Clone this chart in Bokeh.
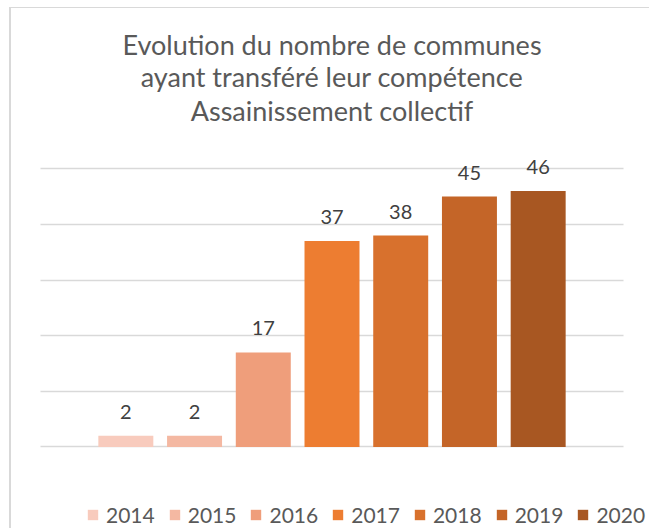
from bokeh.plotting import figure
from bokeh.models import ColumnDataSource, FactorRange, Range1d, LabelSet, Legend, LegendItem, FixedTicker, Title
from bokeh.core.properties import value
from bokeh.embed import file_html
from bokeh.resources import INLINE

years = ["2014", "2015", "2016", "2017", "2018", "2019", "2020"]
values = [2, 2, 17, 37, 38, 45, 46]
colors = ["#F8CBBD", "#F4B8A2", "#EF9E7B", "#ED7D31", "#D8712D", "#C46528", "#A85722"]
grid_ticks = [0, 10, 20, 30, 40, 50]
title_lines = ["Evolution du nombre de communes",
               "ayant transféré leur compétence",
               "Assainissement collectif"]

FONT = "Lato"

source = ColumnDataSource(dict(year=years, value=values, color=colors,
                               label=[str(v) for v in values]))

p = figure(width=649, height=528, output_backend="svg", toolbar_location=None,
           x_range=FactorRange(factors=years, range_padding=1.12, range_padding_units="absolute"),
           y_range=Range1d(-14.65, 57.6),
           min_border_left=14, min_border_right=0, min_border_top=126, min_border_bottom=0)

# title lines: p.title is outermost, first added line is closest to the frame
p.title.text = title_lines[0]
p.title.align = "center"
p.title.text_font = FONT
p.title.text_font_size = "27px"
p.title.text_font_style = "normal"
p.title.text_color = "#595959"
p.title.standoff = -3
for line, so in [(title_lines[2], 0), (title_lines[1], -3)]:
    t = Title(text=line, align="center", text_font=FONT, text_font_size="27px",
              text_font_style="normal", text_color="#595959", standoff=so)
    p.add_layout(t, "above")

r = p.vbar(x="year", top="value", width=0.8, bottom=0, color="color", line_color=None, source=source)

labels = LabelSet(x="year", y="value", text="label", source=source, y_offset=17,
                  text_align="center", text_baseline="alphabetic",
                  text_font=value(FONT), text_font_size="20px", text_color="#404040")
p.add_layout(labels)

p.xaxis.visible = False
p.yaxis.visible = False
p.xgrid.visible = False
p.ygrid.ticker = FixedTicker(ticks=grid_ticks)
p.ygrid.cross_bounds = (-0.742, len(years) + 0.742)
p.ygrid.grid_line_color = "#D9D9D9"
p.ygrid.grid_line_width = 1.5
p.outline_line_color = None
p.border_fill_color = None
p.background_fill_color = None
p.styles = {
    "background-image": "linear-gradient(#D9D9D9, #D9D9D9), linear-gradient(#D9D9D9, #D9D9D9)",
    "background-size": "2px 100%, 100% 1px",
    "background-position": "9px 7px, 9px 7px",
    "background-repeat": "no-repeat",
}

items = [LegendItem(label=y, renderers=[r], index=i) for i, y in enumerate(years)]
legend = Legend(items=items, orientation="horizontal", location=(72, 1),
                glyph_width=13, glyph_height=13, label_standoff=7, spacing=13,
                padding=0, margin=0, border_line_color=None, background_fill_alpha=0,
                label_text_font=FONT, label_text_font_size="21px", label_text_color="#595959")
p.add_layout(legend, "center")

open("out.html", "w").write(file_html(p, INLINE))
